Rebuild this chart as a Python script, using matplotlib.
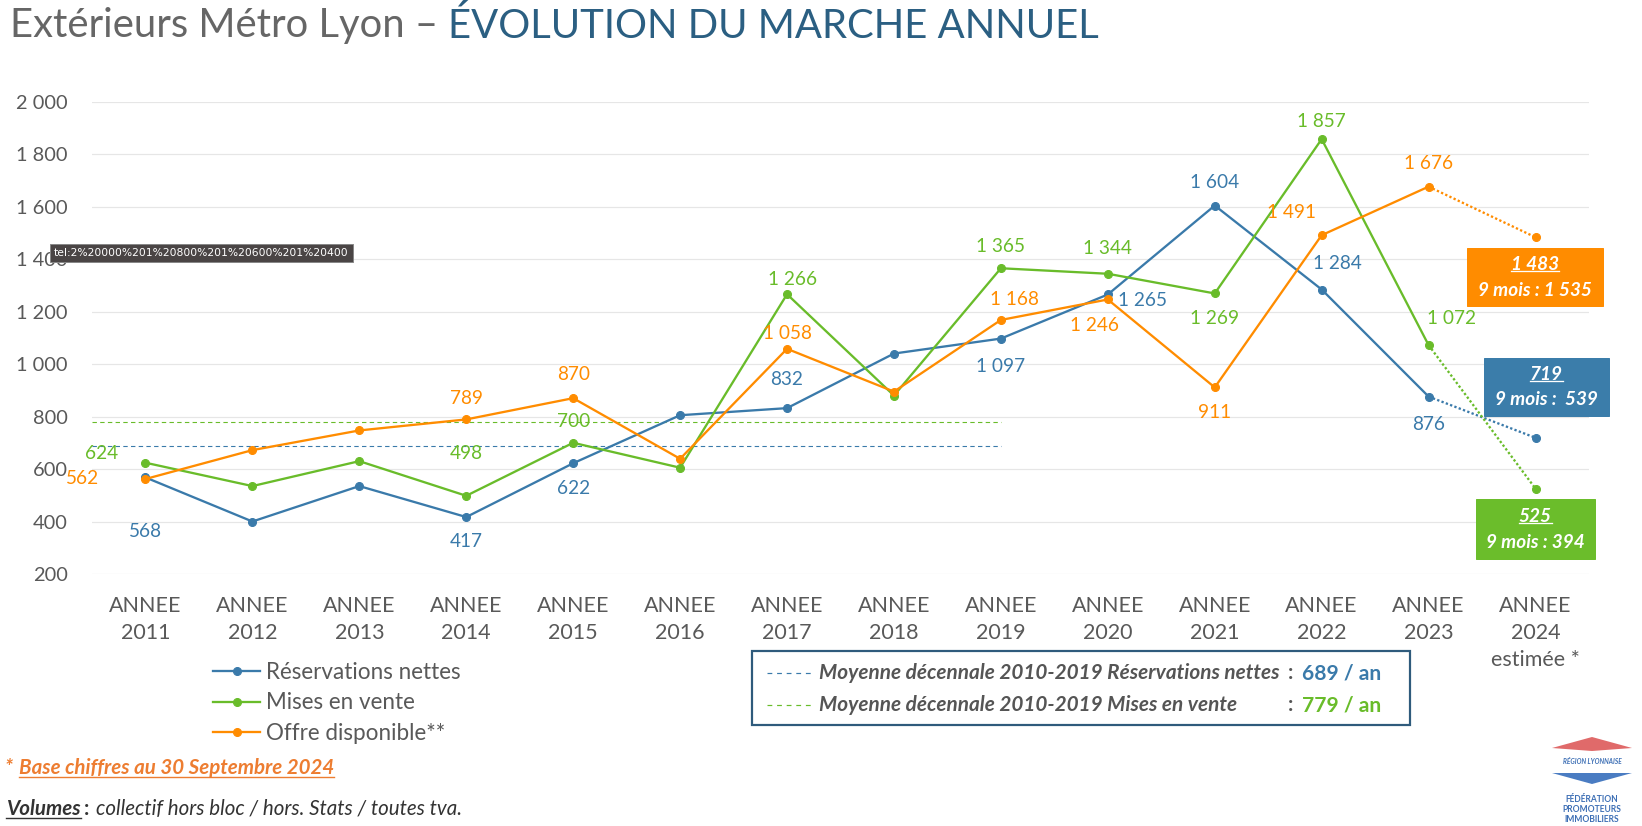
import numpy as np
import matplotlib
matplotlib.use("Agg")
import matplotlib.pyplot as plt
from matplotlib.lines import Line2D
from matplotlib.patches import Rectangle, Polygon

plt.rcParams['font.family'] = ['Lato', 'DejaVu Sans']

W, H = 1642, 826
DPI = 72

years = ["ANNEE\n2011", "ANNEE\n2012", "ANNEE\n2013", "ANNEE\n2014", "ANNEE\n2015",
         "ANNEE\n2016", "ANNEE\n2017", "ANNEE\n2018", "ANNEE\n2019", "ANNEE\n2020",
         "ANNEE\n2021", "ANNEE\n2022", "ANNEE\n2023", "ANNEE\n2024\nestimée *"]
reservations = [568, 400, 535, 417, 622, 805, 832, 1040, 1097, 1265, 1604, 1284, 876, 719]
mises = [624, 535, 630, 498, 700, 605, 1266, 880, 1365, 1344, 1269, 1857, 1072, 525]
offre = [562, 672, 747, 789, 870, 639, 1058, 895, 1168, 1246, 911, 1491, 1676, 1483]
moy_resa = 689
moy_mises = 779
yticks = [200, 400, 600, 800, 1000, 1200, 1400, 1600, 1800, 2000]

BLUE = "#3A7AAA"
GREEN = "#69BC2A"
ORANGE = "#FF8C00"
GRAY = "#595959"

# which points get a value label, with offsets (points)
labels_resa = {0: (0, -54), 3: (0, -24), 4: (0, -25), 6: (0, 29), 8: (0, -28),
               9: (35, -6), 10: (0, 23), 11: (16, 26), 12: (0, -28)}
labels_mises = {0: (-44, 9), 3: (0, 42), 4: (0, 21), 6: (6, 15), 8: (0, 22),
                9: (0, 25), 10: (0, -25), 11: (0, 18), 12: (23, 27)}
labels_offre = {0: (-63, 0), 3: (0, 21), 4: (0, 24), 6: (0, 15), 8: (14, 20),
                9: (-13, -26), 10: (0, -25), 11: (-30, 23), 12: (0, 23)}


def fmt(v):
    return "{:,}".format(v).replace(",", " ")


def fx(px):
    return px / W


def fy(py):
    return 1 - py / H


fig = plt.figure(figsize=(W / DPI, H / DPI), dpi=DPI)
ax = fig.add_axes([fx(92), fy(574), fx(1589) - fx(92), fy(101.6) - fy(574)])

x = np.arange(len(years))
series = [(reservations, BLUE, "Réservations nettes", labels_resa, 3),
          (mises, GREEN, "Mises en vente", labels_mises, 4),
          (offre, ORANGE, "Offre disponible**", labels_offre, 5)]
handles = []
for vals, col, name, labs, z in series:
    h, = ax.plot(x[:-1], vals[:-1], color=col, lw=2.3, marker="o", ms=8, zorder=z, label=name)
    ax.plot(x[-2:], vals[-2:], color=col, lw=2.3, ls=(0, (1, 1)), zorder=z)
    ax.plot(x[-1], vals[-1], color=col, marker="o", ms=8, zorder=z)
    handles.append(h)
    for i, off in labs.items():
        ax.annotate(fmt(vals[i]), (x[i], vals[i]), xytext=off, textcoords="offset points",
                    ha="center", va="center", color=col, fontsize=19, zorder=6)

ax.plot([-0.5, 8.0], [moy_resa, moy_resa], color=BLUE, lw=1.1, ls=(0, (4, 3)), zorder=2)
ax.plot([-0.5, 8.0], [moy_mises, moy_mises], color=GREEN, lw=1.1, ls=(0, (4, 3)), zorder=2)

ax.set_xlim(-0.5, len(years) - 0.5)
ax.set_ylim(200, 2000)
ax.set_yticks(yticks)
ax.set_yticklabels([fmt(v) for v in yticks])
ax.set_xticks(x)
ax.set_xticklabels(years, linespacing=1.45)
ax.tick_params(axis="y", length=0, pad=24, labelsize=20, labelcolor=GRAY)
ax.tick_params(axis="x", length=0, pad=22, labelsize=21.5, labelcolor=GRAY)
ax.grid(axis="y", color="#E6E6E6", lw=1.2, zorder=0)
for s in ax.spines.values():
    s.set_visible(False)

leg = ax.legend(handles=handles, loc="upper left", bbox_to_anchor=(fx(213), fy(662)),
                bbox_transform=fig.transFigure, frameon=False, fontsize=22.5,
                handlelength=2.1, handletextpad=0.25, labelspacing=0.42, borderpad=0,
                borderaxespad=0)
for t in leg.get_texts():
    t.set_color(GRAY)

# title
t0 = fig.text(fx(10), fy(26), "Extérieurs Métro Lyon – ", fontsize=40, color="#666666",
              va="center", ha="left")
fig.canvas.draw()
bb = t0.get_window_extent(fig.canvas.get_renderer())
fig.text(bb.x1 / W, fy(26), "ÉVOLUTION DU MARCHE ANNUEL", fontsize=40, color="#2B5F82",
         va="center", ha="left")

# mean legend box
fig.add_artist(Rectangle((fx(752), fy(725)), fx(1410) - fx(752), fy(651) - fy(725),
                         transform=fig.transFigure, fill=False, ec="#2F5B7C", lw=2.2))
for yy, col, txt, val in [(673, BLUE, "Moyenne décennale 2010-2019 Réservations nettes", moy_resa),
                          (705, GREEN, "Moyenne décennale 2010-2019 Mises en vente", moy_mises)]:
    fig.add_artist(Line2D([fx(767), fx(812)], [fy(yy), fy(yy)], color=col, lw=1.2,
                          ls=(0, (4, 4)), transform=fig.transFigure))
    fig.text(fx(819), fy(yy), txt, fontsize=20.8, style="italic", weight="bold",
             color="#555555", va="center")
    fig.text(fx(1288), fy(yy), ": ", fontsize=21, weight="bold", color="#555555", va="center")
    fig.text(fx(1302), fy(yy), "%d / an" % val, fontsize=21, weight="bold", color=col,
             va="center")


def underline(t, color, lw=1.2, gap=3, z=10):
    fig.canvas.draw()
    b = t.get_window_extent(fig.canvas.get_renderer())
    yl = (b.y0 + 5 - gap) / H
    fig.add_artist(Line2D([b.x0 / W, b.x1 / W], [yl, yl], color=color, lw=lw,
                          transform=fig.transFigure, zorder=z))
    return b


# right boxes
boxes = [(1535, 277, 136, 58, ORANGE, offre[-1], "9 mois : 1 535"),
         (1546, 387, 125, 58, "#3B7DAA", reservations[-1], "9 mois :  539"),
         (1535, 529, 119, 60, "#6BBD2B", mises[-1], "9 mois : 394")]
for cx, cy, bw, bh, col, v, sub in boxes:
    fig.add_artist(Rectangle((fx(cx - bw / 2), fy(cy + bh / 2)), bw / W, bh / H,
                             transform=fig.transFigure, color=col, zorder=8))
    t1 = fig.text(fx(cx), fy(cy - 13), fmt(v), fontsize=19, style="italic", weight="bold",
                  color="white", ha="center", va="center", zorder=9)
    fig.text(fx(cx), fy(cy + 13), sub, fontsize=19, style="italic", weight="bold",
             color="white", ha="center", va="center", zorder=9)
    underline(t1, "white", lw=1.3, gap=3, z=12)

# footnotes
fig.text(fx(5), fy(768), "*", fontsize=20.5, style="italic", weight="bold", color="#ED7D31",
         va="center")
tb = fig.text(fx(19), fy(768), "Base chiffres au 30 Septembre 2024", fontsize=20.5,
              style="italic", weight="bold", color="#ED7D31", va="center")
underline(tb, "#ED7D31", lw=1.4, gap=4)
tv = fig.text(fx(6), fy(809), "Volumes", fontsize=20.5, style="italic", weight="bold",
              color="#333333", va="center")
bv = underline(tv, "#333333", lw=1.4, gap=4)
fig.text(bv.x1 / W + fx(3), fy(809), ":", fontsize=20.5, weight="bold", color="#333333",
         va="center")
fig.text(bv.x1 / W + fx(15), fy(809), "collectif hors bloc / hors. Stats / toutes tva.",
         fontsize=20.5, style="italic", color="#333333", va="center")

# browser tooltip overlay
fig.add_artist(Rectangle((fx(50), fy(262)), fx(353) - fx(50), fy(244) - fy(262),
                         transform=fig.transFigure, fc="#4A4545", ec="#888888", lw=1, zorder=10))
fig.text(fx(201), fy(253), "tel:2%20000%201%20800%201%20600%201%20400", fontsize=10.8,
         color="white", va="center", ha="center", family="DejaVu Sans", zorder=11)

# logo
fig.add_artist(Polygon([(fx(1552), fy(748)), (fx(1592), fy(737)), (fx(1632), fy(748)),
                        (fx(1592), fy(751))], closed=True, transform=fig.transFigure,
                       fc="#E06A6A", ec="none"))
fig.text(fx(1592), fy(762), "RÉGION LYONNAISE", fontsize=6.5, style="italic", weight="bold",
         color="#3D6FB5", ha="center", va="center")
fig.add_artist(Polygon([(fx(1552), fy(773)), (fx(1632), fy(773)), (fx(1592), fy(784))],
                       closed=True, transform=fig.transFigure, fc="#4A7CC2", ec="none"))
for yy, s in [(800, "FÉDÉRATION"), (810, "PROMOTEURS"), (820, "IMMOBILIERS")]:
    fig.text(fx(1592), fy(yy), s, fontsize=8.5, weight="bold", color="#3D6FB5",
             ha="center", va="center")

fig.savefig("out.png", dpi=DPI)
